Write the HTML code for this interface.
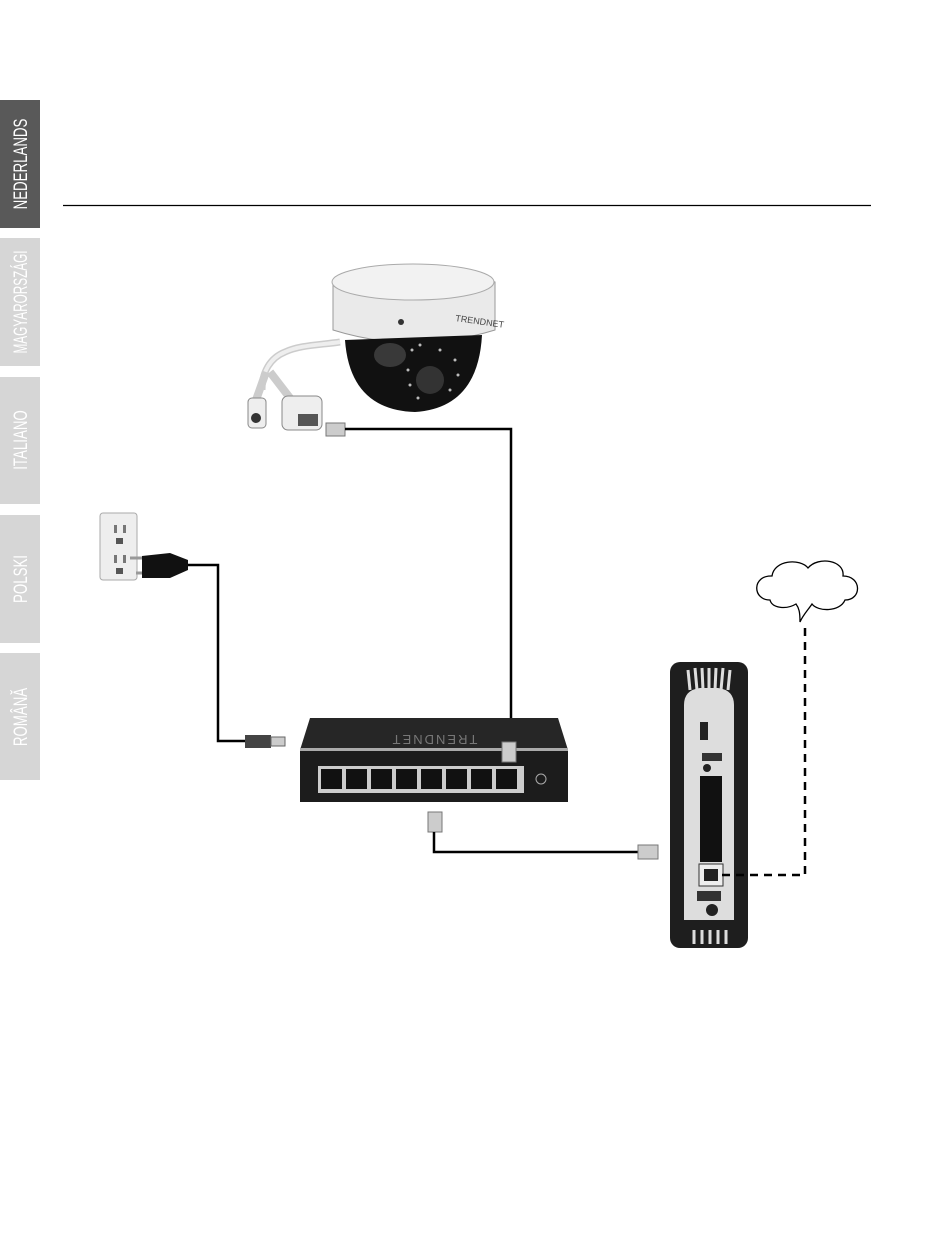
<!DOCTYPE html>
<html><head><meta charset="utf-8"><style>
html,body{margin:0;padding:0;background:#fff;}
svg{display:block;}
text{font-family:"Liberation Sans",sans-serif;}
</style></head><body>
<svg width="950" height="1233" viewBox="0 0 950 1233" xmlns="http://www.w3.org/2000/svg">
<!-- tabs -->
<rect x="0" y="100" width="40" height="128" fill="#595959"/>
<rect x="0" y="238" width="40" height="128" fill="#d6d6d6"/>
<rect x="0" y="377" width="40" height="127" fill="#d6d6d6"/>
<rect x="0" y="515" width="40" height="128" fill="#d6d6d6"/>
<rect x="0" y="653" width="40" height="127" fill="#d6d6d6"/>
<g fill="#fff" font-size="19" text-anchor="middle">
<text transform="translate(27,164) rotate(-90) scale(0.7,1)">NEDERLANDS</text>
<text transform="translate(27,302) rotate(-90) scale(0.62,1)">MAGYARORSZÁGI</text>
<text transform="translate(27,440) rotate(-90) scale(0.7,1)">ITALIANO</text>
<text transform="translate(27,579) rotate(-90) scale(0.7,1)">POLSKI</text>
<text transform="translate(27,717) rotate(-90) scale(0.7,1)">ROMÂNĂ</text>
</g>
<line x1="63" y1="205.5" x2="871" y2="205.5" stroke="#000" stroke-width="1.2"/>

<!-- camera -->
<path d="M340 342 C320 345 300 345 285 352 C270 358 262 372 262 390" fill="none" stroke="#ccc" stroke-width="7"/>
<path d="M340 342 C320 345 300 345 285 352 C270 358 262 372 262 390" fill="none" stroke="#eee" stroke-width="4"/>
<path d="M266 372 L256 400 M270 372 L290 398" stroke="#ccc" stroke-width="8" fill="none"/>
<rect x="248" y="398" width="18" height="30" rx="4" fill="#eee" stroke="#888"/>
<circle cx="256" cy="418" r="5" fill="#333"/>
<rect x="282" y="396" width="40" height="34" rx="6" fill="#eee" stroke="#888"/>
<rect x="298" y="414" width="20" height="12" fill="#555"/>
<rect x="326" y="423" width="19" height="13" fill="#ccc" stroke="#777"/>
<path d="M333 282 Q413 258 495 282 L495 330 Q413 355 333 330 Z" fill="#eaeaea" stroke="#999"/>
<ellipse cx="413" cy="282" rx="81" ry="18" fill="#f2f2f2" stroke="#aaa"/>
<path d="M345 340 Q350 410 415 412 Q478 408 482 335 Z" fill="#111"/>
<ellipse cx="390" cy="355" rx="16" ry="12" fill="#555" opacity="0.6"/>
<circle cx="430" cy="380" r="14" fill="#333"/>
<circle cx="401" cy="322" r="3" fill="#333"/>
<text x="455" y="321" font-size="9" fill="#444" transform="rotate(8 455 321)">TRENDNET</text>
<g fill="#bbb"><circle cx="412" cy="350" r="1.5"/><circle cx="420" cy="345" r="1.5"/><circle cx="440" cy="350" r="1.5"/><circle cx="455" cy="360" r="1.5"/><circle cx="408" cy="370" r="1.5"/><circle cx="410" cy="385" r="1.5"/><circle cx="418" cy="398" r="1.5"/><circle cx="450" cy="390" r="1.5"/><circle cx="458" cy="375" r="1.5"/></g>
<path d="M345 429 H511 V745" fill="none" stroke="#000" stroke-width="2.5"/>

<!-- outlet + power -->
<rect x="100" y="513" width="37" height="67" rx="3" fill="#eee" stroke="#aaa"/>
<rect x="114" y="525" width="3" height="8" fill="#777"/><rect x="123" y="525" width="3" height="8" fill="#777"/>
<rect x="116" y="538" width="7" height="6" fill="#555"/>
<rect x="114" y="555" width="3" height="8" fill="#777"/><rect x="123" y="555" width="3" height="8" fill="#777"/>
<rect x="116" y="568" width="7" height="6" fill="#555"/>
<path d="M130 558 H145 M136 573 H145" stroke="#999" stroke-width="3"/>
<path d="M142 556 L170 553 L188 560 L188 570 L170 578 L142 578 Z" fill="#111"/>
<path d="M188 565 H218 V741 H245" fill="none" stroke="#000" stroke-width="2.5"/>
<rect x="245" y="735" width="26" height="13" fill="#444"/>
<rect x="271" y="737" width="14" height="9" fill="#ccc" stroke="#666"/>

<!-- switch -->
<path d="M310 718 H558 L568 750 H300 Z" fill="#262626"/>
<text x="434" y="743" font-size="13" fill="#777" text-anchor="middle" transform="rotate(180 434 739)" letter-spacing="2">TRENDNET</text>
<rect x="300" y="748" width="268" height="3" fill="#aaa"/>
<rect x="300" y="751" width="268" height="51" fill="#1c1c1c"/>
<rect x="318" y="766" width="206" height="27" fill="#ccc"/>
<g fill="#111">
<rect x="321" y="769" width="21" height="20"/><rect x="346" y="769" width="21" height="20"/><rect x="371" y="769" width="21" height="20"/><rect x="396" y="769" width="21" height="20"/><rect x="421" y="769" width="21" height="20"/><rect x="446" y="769" width="21" height="20"/><rect x="471" y="769" width="21" height="20"/><rect x="496" y="769" width="21" height="20"/>
</g>
<circle cx="541" cy="779" r="5" fill="none" stroke="#aaa"/>
<rect x="502" y="742" width="14" height="20" fill="#ccc" stroke="#777"/>

<!-- switch to router -->
<rect x="428" y="812" width="14" height="20" fill="#ccc" stroke="#777"/>
<path d="M434 832 V852 H640" fill="none" stroke="#000" stroke-width="2.5"/>
<rect x="638" y="845" width="20" height="14" fill="#ccc" stroke="#777"/>

<!-- router -->
<rect x="670" y="662" width="78" height="286" rx="10" fill="#1e1e1e"/>
<path d="M684 705 Q684 690 700 688 H718 Q734 690 734 705 V920 H684 Z" fill="#ddd"/>
<g stroke="#ddd" stroke-width="3"><line x1="688" y1="670" x2="690" y2="690"/><line x1="695" y1="668" x2="697" y2="690"/><line x1="702" y1="668" x2="703" y2="690"/><line x1="709" y1="668" x2="709" y2="690"/><line x1="716" y1="668" x2="715" y2="690"/><line x1="723" y1="668" x2="721" y2="690"/><line x1="730" y1="670" x2="728" y2="690"/>
<line x1="694" y1="930" x2="694" y2="944"/><line x1="702" y1="930" x2="702" y2="944"/><line x1="710" y1="930" x2="710" y2="944"/><line x1="718" y1="930" x2="718" y2="944"/><line x1="726" y1="930" x2="726" y2="944"/></g>
<rect x="700" y="722" width="8" height="18" fill="#222"/>
<rect x="702" y="753" width="20" height="8" fill="#333"/>
<circle cx="707" cy="768" r="4" fill="#222"/>
<rect x="700" y="776" width="22" height="86" fill="#111"/>
<rect x="699" y="864" width="24" height="22" fill="#eee" stroke="#333"/>
<rect x="704" y="869" width="14" height="12" fill="#222"/>
<rect x="697" y="891" width="24" height="10" fill="#333"/>
<circle cx="712" cy="910" r="6" fill="#222"/>
<path d="M722 875 H805 V625" fill="none" stroke="#000" stroke-width="2.5" stroke-dasharray="8 6"/>

<!-- cloud -->
<path d="M770 600 C752 600 752 575 772 576 C774 560 800 558 808 568 C818 556 845 560 843 576 C862 576 862 600 845 600 C840 612 818 612 812 604 C808 610 803 615 800 622 C800 612 799 608 796 604 C786 610 772 608 770 600 Z" fill="#fff" stroke="#000" stroke-width="1.3"/>
</svg>
</body></html>
